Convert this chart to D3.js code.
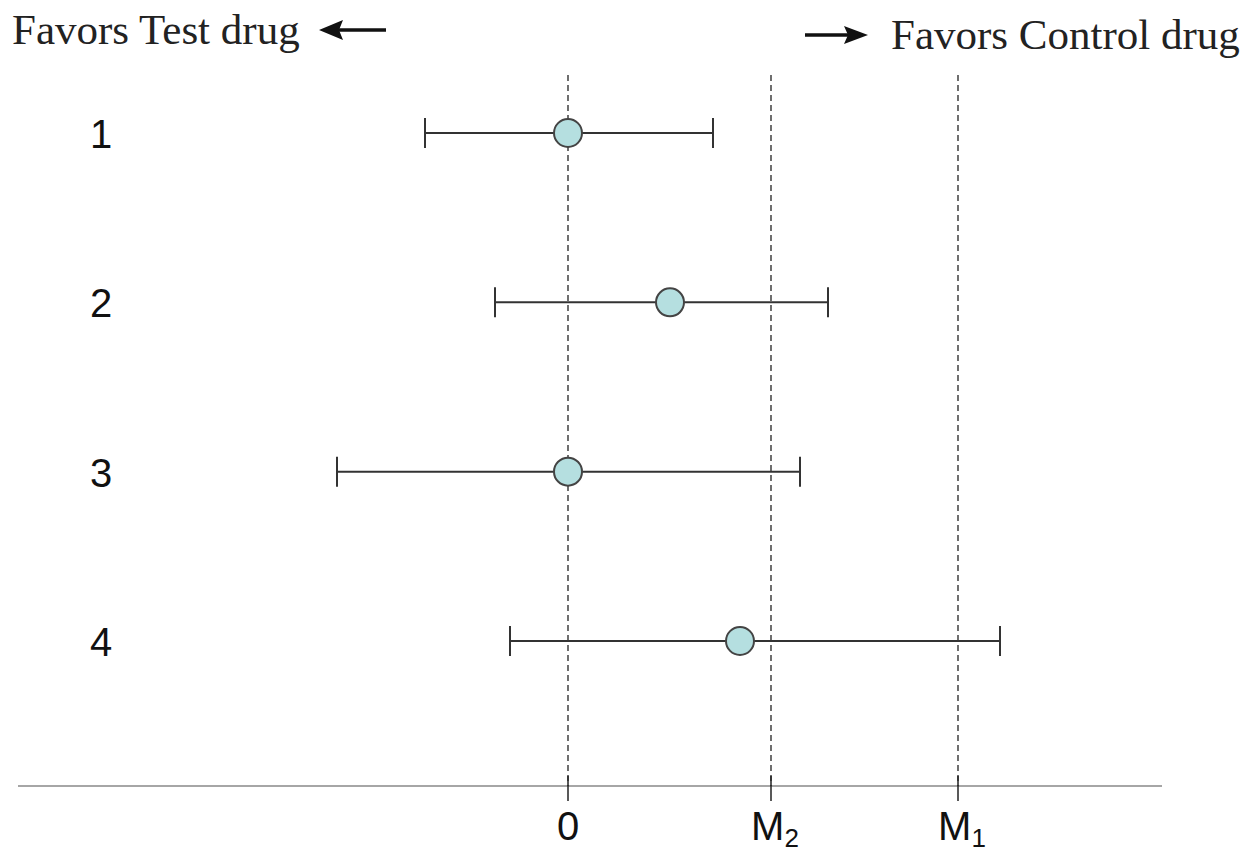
<!DOCTYPE html>
<html>
<head>
<meta charset="utf-8">
<script src="https://cdn.jsdelivr.net/npm/d3@7"></script>
<style>
  body { margin: 0; background: #fff; }
  .num { font-family: "Liberation Sans", Arial, sans-serif; font-size: 40px; fill: #111; }
  .fav { font-family: "Liberation Serif", "Times New Roman", serif; font-size: 43px; fill: #222; }
</style>
</head>
<body>
<svg id="chart"></svg>
<script>
// trials, point estimates and confidence limits (units: treatment difference)
const trials = ['1', '2', '3', '4'];
const estimates = [0, 1.02, 0, 1.72];
const lower = [-1.43, -0.73, -2.31, -0.58];
const upper = [1.45, 2.60, 2.32, 4.32];

// reference lines: zero effect and the two margins
const refValues = [0, 2.03, 3.90];
const refLabels = ['0', 'M2', 'M1'];

const width = 1246;
const height = 857;

const svg = d3.select('#chart')
    .attr('width', width)
    .attr('height', height);

const x = d3.scaleLinear()
    .domain([-5.5, 5.94])
    .range([18, 1162]);

const y = d3.scalePoint()
    .domain(trials)
    .range([133, 641]);

const axisY = 786;

// header texts with arrows
svg.append('text').attr('class', 'fav')
    .attr('x', 12).attr('y', 44)
    .text('Favors Test drug');

svg.append('line')
    .attr('x1', 386).attr('y1', 30).attr('x2', 335).attr('y2', 30)
    .attr('stroke', '#111').attr('stroke-width', 3.5);
svg.append('path')
    .attr('d', 'M319,30 L343,20 L339,30 L343,40 Z')
    .attr('fill', '#111');

svg.append('line')
    .attr('x1', 805).attr('y1', 35).attr('x2', 852).attr('y2', 35)
    .attr('stroke', '#111').attr('stroke-width', 3.5);
svg.append('path')
    .attr('d', 'M868,35 L844,26 L848,35 L844,44 Z')
    .attr('fill', '#111');

svg.append('text').attr('class', 'fav')
    .attr('x', 891).attr('y', 49)
    .text('Favors Control drug');

// baseline axis
svg.append('line')
    .attr('x1', x.range()[0]).attr('x2', x.range()[1])
    .attr('y1', axisY).attr('y2', axisY)
    .attr('stroke', '#888').attr('stroke-width', 1.5);

const refs = svg.selectAll('.ref')
    .data(refValues)
    .enter().append('g')
    .attr('class', 'ref');

refs.append('line')
    .attr('x1', d => x(d)).attr('x2', d => x(d))
    .attr('y1', 75).attr('y2', axisY)
    .attr('stroke', '#222').attr('stroke-width', 1.3)
    .attr('stroke-dasharray', '6,4');

refs.append('line')
    .attr('x1', d => x(d)).attr('x2', d => x(d))
    .attr('y1', axisY - 10).attr('y2', axisY + 15)
    .attr('stroke', '#222').attr('stroke-width', 1.5);

refLabels.forEach((lab, i) => {
    const t = svg.append('text').attr('class', 'num')
        .attr('x', x(refValues[i]))
        .attr('y', 840)
        .attr('text-anchor', 'middle');
    if (lab.length > 1) {
        t.attr('dx', 4);
        t.append('tspan').text(lab[0]);
        t.append('tspan').attr('font-size', 26).attr('dy', 7).text(lab.slice(1));
    } else {
        t.text(lab);
    }
});

// row labels
svg.selectAll('.rowlab')
    .data(trials)
    .enter().append('text')
    .attr('class', 'num')
    .attr('x', 101)
    .attr('y', d => y(d) + 15)
    .attr('text-anchor', 'middle')
    .text(d => d);

// confidence intervals
const rows = svg.selectAll('.row')
    .data(trials)
    .enter().append('g')
    .attr('class', 'row');

rows.append('line')
    .attr('x1', (d, i) => x(lower[i])).attr('x2', (d, i) => x(upper[i]))
    .attr('y1', d => y(d)).attr('y2', d => y(d))
    .attr('stroke', '#333').attr('stroke-width', 2);

rows.append('line')
    .attr('x1', (d, i) => x(lower[i])).attr('x2', (d, i) => x(lower[i]))
    .attr('y1', d => y(d) - 15).attr('y2', d => y(d) + 15)
    .attr('stroke', '#333').attr('stroke-width', 2);

rows.append('line')
    .attr('x1', (d, i) => x(upper[i])).attr('x2', (d, i) => x(upper[i]))
    .attr('y1', d => y(d) - 15).attr('y2', d => y(d) + 15)
    .attr('stroke', '#333').attr('stroke-width', 2);

rows.append('circle')
    .attr('cx', (d, i) => x(estimates[i]))
    .attr('cy', d => y(d))
    .attr('r', 14)
    .attr('fill', '#b5dfe0')
    .attr('stroke', '#444')
    .attr('stroke-width', 2);
</script>
</body>
</html>
